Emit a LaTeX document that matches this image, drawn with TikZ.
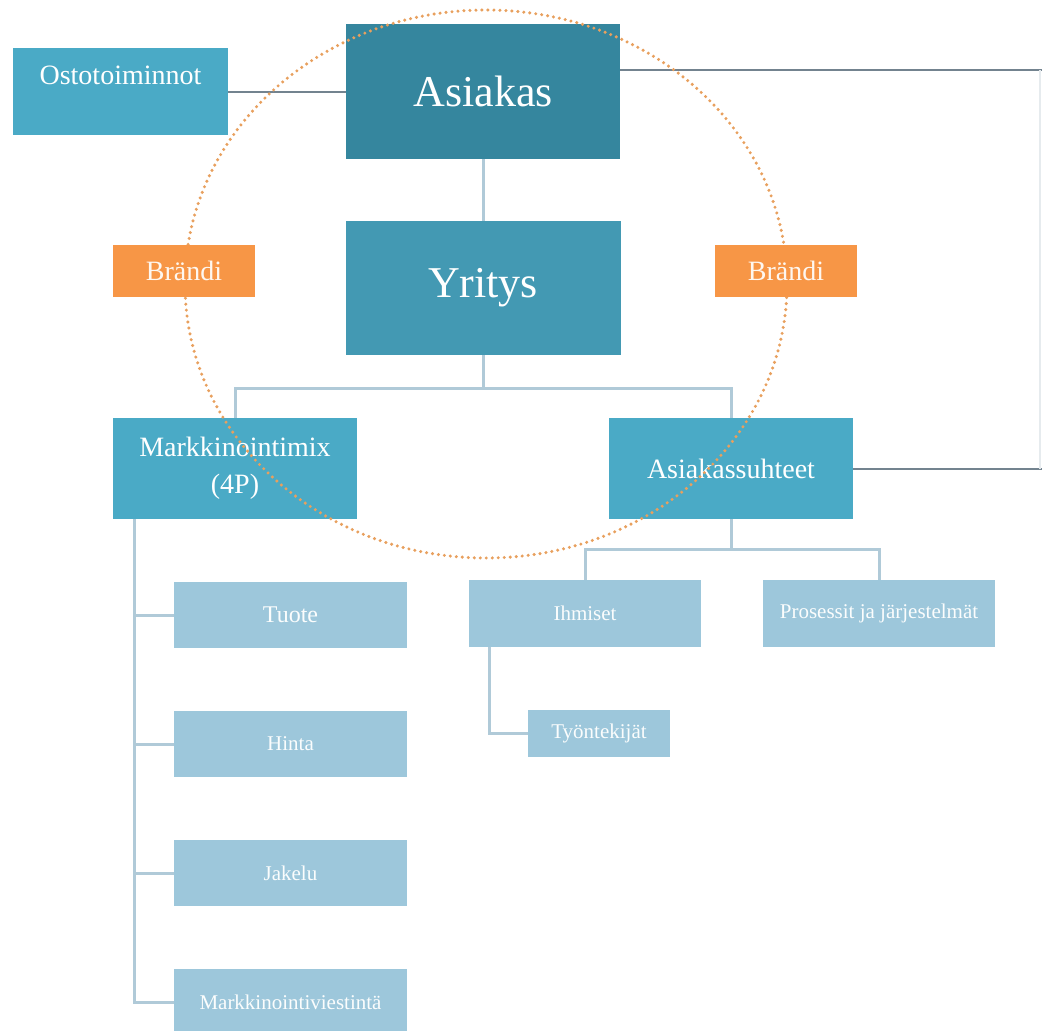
\documentclass[tikz,border=0pt]{standalone}
\usepackage{fontspec}
\setmainfont{Liberation Serif}
\usetikzlibrary{calc}
\pgfdeclarelayer{bg}
\pgfsetlayers{bg,main}
\definecolor{darkteal}{HTML}{35869E}
\definecolor{midteal}{HTML}{4399B3}
\definecolor{boxblue}{HTML}{4AAAC6}
\definecolor{lightblue}{HTML}{9DC7DB}
\definecolor{brandorange}{HTML}{F79646}
\definecolor{treeline}{HTML}{B0CAD8}
\definecolor{slateline}{HTML}{73838F}
\definecolor{faintline}{HTML}{E6EBEE}
\definecolor{ringdot}{HTML}{E8A05E}
\tikzset{
  box/.style={rectangle, inner sep=0pt, text=white, align=center},
  topbox/.style={box, fill=darkteal, font=\fontsize{44}{50}\selectfont},
  corebox/.style={box, fill=midteal, font=\fontsize{44}{50}\selectfont},
  mainbox/.style={box, fill=boxblue, font=\fontsize{28}{35}\selectfont},
  leafbox/.style={box, fill=lightblue, text=white!96!lightblue, font=\fontsize{21}{25}\selectfont},
  brandbox/.style={box, fill=brandorange, text=white!92!brandorange, minimum width=142pt, minimum height=52pt, font=\fontsize{28}{32}\selectfont},
  tree/.style={draw=treeline, line width=3pt},
  slate/.style={draw=slateline, line width=2pt},
  ring/.style={draw=ringdot, line width=3.4pt, line cap=round, dash pattern=on 0pt off 6pt}
}
\begin{document}
\begin{tikzpicture}[x=1pt,y=-1pt]
\useasboundingbox (0,0) rectangle (1042,1031);

% main boxes
\node[mainbox, minimum width=215pt, minimum height=87pt, text height=20pt, text depth=35pt] (osto) at (120.5,91.5) {Ostotoiminnot};
\node[topbox, minimum width=274pt, minimum height=135pt] (asiakas) at (483,91.5) {Asiakas};
\node[corebox, minimum width=275pt, minimum height=134pt] (yritys) at (483,288) {Yritys};
\node[mainbox, minimum width=244pt, minimum height=101pt] (mix) at (235,468.5) {Markkinointimix\\[2pt](4P)};
\node[mainbox, minimum width=244pt, minimum height=101pt] (suhteet) at (731,468.5) {Asiakassuhteet};

% leaf boxes
\node[leafbox, minimum width=233pt, minimum height=66pt, font=\fontsize{24}{28}\selectfont] (tuote) at (290.5,615) {Tuote};
\node[leafbox, minimum width=233pt, minimum height=66pt] (hinta) at (290.5,744) {Hinta};
\node[leafbox, minimum width=233pt, minimum height=66pt] (jakelu) at (290.5,873) {Jakelu};
\node[leafbox, minimum width=233pt, minimum height=66pt] (mv) at (290.5,1002) {Markkinointiviestintä};
\node[leafbox, minimum width=232pt, minimum height=67pt] (ihmiset) at (585,613.5) {Ihmiset};
\node[leafbox, minimum width=232pt, minimum height=67pt] (prosessit) at (879,613.5) {Prosessit ja järjestelmät};
\node[leafbox, minimum width=142pt, minimum height=47pt] (tyo) at (599,733.5) {Työntekijät};

% helper coordinates
\coordinate (mixdrop) at ($(mix.south west)+(22,0)$);
\coordinate (ihmdrop) at ($(ihmiset.south west)+(21,0)$);
\coordinate (rtop) at (1046,70);
\coordinate (rbot) at (1046,468.5);

\begin{pgfonlayer}{bg}
  \draw[slate] (osto.east) -- (asiakas.west);
  \draw[slate] (asiakas.east |- rtop) -- (rtop) -- (rbot) -- (suhteet.east);
  \draw[draw=faintline, line width=1.5pt] (1040,70) -- (1040,468.5);
  \draw[tree] (asiakas.south) -- (yritys.north);
  \draw[tree] (yritys.south) -- ++(0,33) -| (mix.north);
  \draw[tree] (yritys.south) -- ++(0,33) -| (suhteet.north);
  \draw[tree] (mixdrop) |- (tuote.west);
  \draw[tree] (mixdrop) |- (hinta.west);
  \draw[tree] (mixdrop) |- (jakelu.west);
  \draw[tree] (mixdrop) |- (mv.west);
  \draw[tree] (suhteet.south) -- ++(0,30) -| (ihmiset.north);
  \draw[tree] (suhteet.south) -- ++(0,30) -| (prosessit.north);
  \draw[tree] (ihmdrop) |- (tyo.west);
\end{pgfonlayer}

% dotted ring
\draw[ring] (486,284) ellipse [x radius=301pt, y radius=274pt];

% brand boxes on top of ring
\node[brandbox] (brandl) at (184,271) {Brändi};
\node[brandbox] (brandr) at (786,271) {Brändi};
\end{tikzpicture}
\end{document}
